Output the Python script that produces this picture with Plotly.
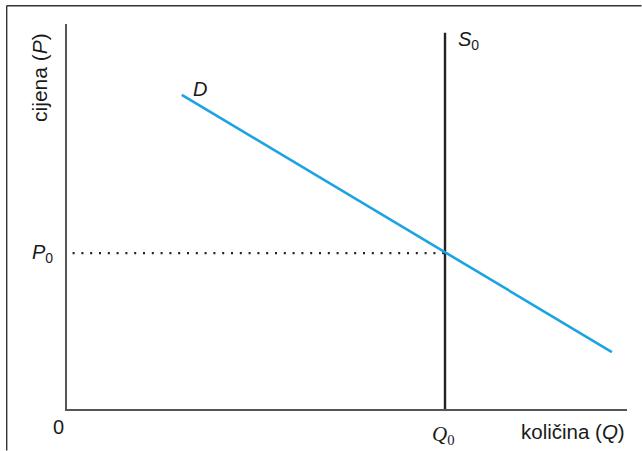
import plotly.graph_objects as go

# Data (in axis units: quantity Q on x, price P on y)
demand_q = [2.05, 9.73]
demand_p = [8.16, 1.48]
Q0 = 6.75
P0 = 4.05
supply_q = [Q0, Q0]
supply_p = [0.0, 9.77]
price_line_q = [0.1, Q0]
price_line_p = [P0, P0]

W, H = 642, 451
L, R, T, B = 67, 15, 24, 42
pw, ph = W - L - R, H - T - B

fig = go.Figure()
fig.add_trace(go.Scatter(x=price_line_q, y=price_line_p, mode="lines",
                         line=dict(color="#222222", width=2.2, dash="2px,6.8px"),
                         hoverinfo="skip", showlegend=False))
fig.add_trace(go.Scatter(x=supply_q, y=supply_p, mode="lines",
                         line=dict(color="#222222", width=2.4),
                         hoverinfo="skip", showlegend=False))
fig.add_trace(go.Scatter(x=demand_q, y=demand_p, mode="lines",
                         line=dict(color="#1BA3E3", width=2.6),
                         hoverinfo="skip", showlegend=False))

sans = "Liberation Sans, Arial, sans-serif"
serif = "Liberation Serif, Times New Roman, serif"
fs = 20
ann = [
    dict(xref="paper", yref="y", x=-27 / pw, y=8.6, text="cijena (<i>P</i>)", textangle=-90,
         xanchor="center", yanchor="middle", font=dict(family=sans, size=fs + 1)),
    dict(xref="paper", yref="y", x=-12 / pw, y=P0, text="<i>P</i><sub>0</sub>",
         xanchor="right", yanchor="middle", font=dict(family=sans, size=fs)),
    dict(xref="paper", yref="paper", x=-9 / pw, y=-18 / ph, text="0",
         xanchor="center", yanchor="middle", font=dict(family=sans, size=fs)),
    dict(xref="x", yref="paper", x=Q0 - 0.02, y=-26 / ph, text="<i>Q</i><sub>0</sub>",
         xanchor="center", yanchor="middle", font=dict(family=serif, size=fs + 1)),
    dict(xref="x", yref="paper", x=10.0, y=-22 / ph, text="količina (<i>Q</i>)",
         xanchor="right", yanchor="middle", font=dict(family=sans, size=fs + 0.5)),
    dict(xref="x", yref="y", x=2.375, y=8.31, text="<i>D</i>",
         xanchor="center", yanchor="middle", font=dict(family=sans, size=fs)),
    dict(xref="x", yref="y", x=6.94, y=9.56, text="<i>S</i><sub>0</sub>",
         xanchor="left", yanchor="middle", font=dict(family=sans, size=fs)),
]
for a in ann:
    a.update(showarrow=False)
    a["font"]["color"] = "#1a1a1a"

# outer frame: only the left and top edges fall inside the picture
frame = dict(color="#333333", width=1.4)
fx = (6.7 - L) / pw          # left edge in paper units
fy = (H - B - 5.7) / ph      # top edge in paper units
fig.add_shape(type="line", xref="paper", yref="paper",
              x0=fx, x1=fx, y0=(H - B - (H - 0.5)) / ph, y1=fy, line=frame)
fig.add_shape(type="line", xref="paper", yref="paper",
              x0=fx, x1=(W - 0.5 - L) / pw, y0=fy, y1=fy, line=frame)

fig.update_layout(
    width=W, height=H,
    margin=dict(l=L, r=R, t=T, b=B, pad=0),
    paper_bgcolor="white", plot_bgcolor="white",
    annotations=ann,
    showlegend=False,
)
axis_common = dict(showline=True, linecolor="#555555", linewidth=1.5, showgrid=False,
                   zeroline=False, showticklabels=False, ticks="", fixedrange=True)
fig.update_xaxes(range=[0, 10], **axis_common)
fig.update_yaxes(range=[0, 10], **axis_common)

fig.write_html(
    "out.html",
    config={"displayModeBar": False},
    post_script="document.body.style.margin='0';document.body.style.overflow='hidden';",
)
